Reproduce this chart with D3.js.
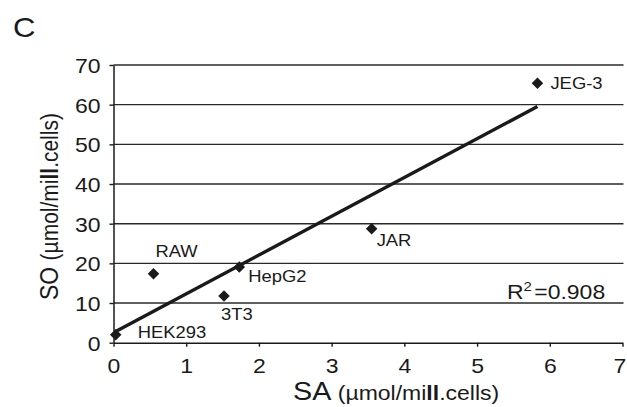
<!DOCTYPE html>
<html>
<head>
<meta charset="utf-8">
<script src="https://cdn.jsdelivr.net/npm/d3@7"></script>
<style>
  html, body { margin: 0; padding: 0; background: #fff; }
  svg { display: block; font-family: Arial, "Liberation Sans", sans-serif; }
</style>
</head>
<body>
<div id="chart"></div>
<script>
// cell lines, SA vs SO (umol/mill.cells)
const cellLines = ["HEK293", "RAW", "3T3", "HepG2", "JAR", "JEG-3"];
const saValues = [0.03, 0.55, 1.52, 1.73, 3.55, 5.83];
const soValues = [2.0, 17.4, 11.8, 19.1, 28.7, 65.4];
const xTicks = [0, 1, 2, 3, 4, 5, 6, 7];
const yTicks = [0, 10, 20, 30, 40, 50, 60, 70];
const rSquared = "0.908";

const width = 627, height = 407;
const stretch = 1.15; // text in the picture is a bit wide
const ink = "#1a1a1a";

const svg = d3.select("#chart").append("svg")
    .attr("width", width)
    .attr("height", height);

const x = d3.scaleLinear().domain([0, 7]).range([113.5, 622.5]);
const y = d3.scaleLinear().domain([0, 70]).range([342.7, 65]);

// helper: text with a little horizontal stretch
function label(px, py, anchor, size) {
    return svg.append("text")
        .attr("transform", `translate(${px},${py}) scale(${stretch},1)`)
        .attr("text-anchor", anchor)
        .attr("font-size", size)
        .attr("fill", ink);
}

// gridlines
svg.append("g")
    .selectAll("line")
    .data(yTicks.filter(d => d > 0))
    .join("line")
    .attr("x1", x(0))
    .attr("x2", x(7) + 1)
    .attr("y1", d => y(d))
    .attr("y2", d => y(d))
    .attr("stroke", "#2a2a2a")
    .attr("stroke-width", 1.4);

// y axis
const yAxis = svg.append("g")
    .attr("transform", `translate(${x(0)},0)`)
    .call(d3.axisLeft(y).tickValues(yTicks).tickFormat(d3.format("d")).tickSize(4).tickSizeOuter(0));
yAxis.select(".domain").attr("stroke", ink).attr("stroke-width", 1.5);
yAxis.selectAll(".tick line").attr("stroke", ink).attr("stroke-width", 1.4);
yAxis.selectAll(".tick text")
    .attr("x", null).attr("dy", null)
    .attr("transform", `translate(-13,7.5) scale(${stretch},1)`)
    .attr("font-size", 20)
    .attr("font-family", null)
    .attr("fill", ink);

// x axis
const xAxis = svg.append("g")
    .attr("transform", `translate(0,${y(0)})`)
    .call(d3.axisBottom(x).tickValues(xTicks).tickFormat(d3.format("d")).tickSize(4).tickSizeOuter(0));
xAxis.select(".domain").attr("stroke", ink).attr("stroke-width", 1.5);
xAxis.selectAll(".tick line").attr("stroke", ink).attr("stroke-width", 1.4);
xAxis.selectAll(".tick text")
    .attr("y", null).attr("dy", null)
    .attr("transform", `translate(0,30.5) scale(${stretch},1)`)
    .attr("font-size", 20)
    .attr("font-family", null)
    .attr("fill", ink);
// last label sits at the edge, nudge it in a little
xAxis.selectAll(".tick text").filter(d => d === 7)
    .attr("transform", `translate(-3,30.5) scale(${stretch},1)`);

// trend line (least squares)
const mx = d3.mean(saValues), my = d3.mean(soValues);
const sxy = d3.sum(saValues, (v, i) => (v - mx) * (soValues[i] - my));
const sxx = d3.sum(saValues, v => (v - mx) * (v - mx));
const slope = sxy / sxx, intercept = my - slope * mx;
const [xmin, xmax] = d3.extent(saValues);
svg.append("line")
    .attr("x1", x(xmin)).attr("y1", y(intercept + slope * xmin))
    .attr("x2", x(xmax)).attr("y2", y(intercept + slope * xmax))
    .attr("stroke", ink)
    .attr("stroke-width", 3.4);

// points
const points = cellLines.map((name, i) => ({ name, sa: saValues[i], so: soValues[i] }));
svg.append("g")
    .selectAll("path")
    .data(points)
    .join("path")
    .attr("d", d3.symbol(d3.symbolSquare, 66))
    .attr("transform", d => `translate(${x(d.sa)},${y(d.so)}) rotate(45)`)
    .attr("fill", ink);

// point labels, offset from the marker
const labelOffset = {
    "HEK293": [22, 3], "RAW": [2, -17], "3T3": [-3, 24],
    "HepG2": [9, 15], "JAR": [5, 17], "JEG-3": [13, 6]
};
points.forEach(d => {
    const [dx, dy] = labelOffset[d.name];
    label(x(d.sa) + dx, y(d.so) + dy, "start", 16).text(d.name);
});

// R squared
const r2 = label(507, 299, "start", 20);
r2.append("tspan").text("R");
r2.append("tspan").attr("font-size", 13).attr("dy", -8).text("2");
r2.append("tspan").attr("dy", 8).attr("dx", 2).text("=" + rSquared);

// panel letter
label(13, 37, "start", 27).text("C");

// x title
const xt = label(293, 400, "start", 25);
xt.append("tspan").text("SA ");
xt.append("tspan").attr("font-size", 20).text("(µmol/mi");
xt.append("tspan").attr("font-size", 20).attr("font-weight", "bold").text("ll");
xt.append("tspan").attr("font-size", 20).text(".cells)");

// y title
const yt = svg.append("text")
    .attr("transform", `translate(58,300) scale(${stretch},1) rotate(-90)`)
    .attr("font-size", 23)
    .attr("fill", ink);
yt.append("tspan").text("SO ");
yt.append("tspan").attr("font-size", 21).text("(µmol/mi");
yt.append("tspan").attr("font-size", 21).attr("font-weight", "bold").text("ll");
yt.append("tspan").attr("font-size", 21).text(".cells)");
</script>
</body>
</html>
